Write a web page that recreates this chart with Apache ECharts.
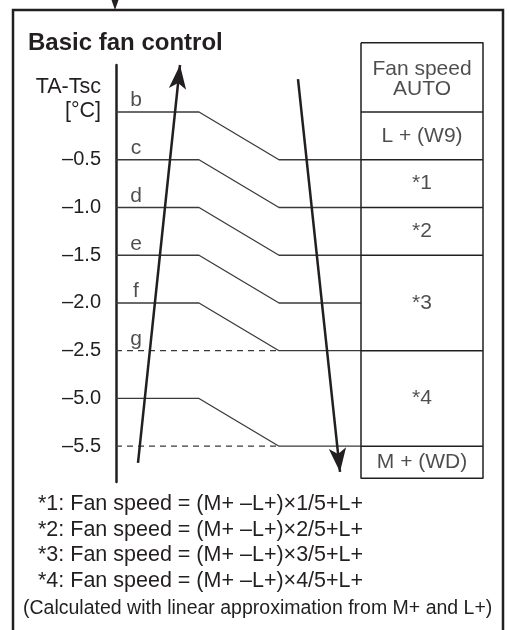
<!DOCTYPE html>
<html><head><meta charset="utf-8">
<script src="https://cdn.jsdelivr.net/npm/echarts@6/dist/echarts.min.js"></script>
<style>html,body{margin:0;padding:0;background:#fff}#c{width:509px;height:630px}</style>
</head><body><div id="c"></div>
<script>
// ---- data ----
const levelTicks = ['', '–0.5', '–1.0', '–1.5', '–2.0', '–2.5', '–5.0', '–5.5'];
const thresholdLetters = ['b', 'c', 'd', 'e', 'f', 'g'];
const rampLevels = [0, 1, 2, 3, 4, 6];      // solid threshold lines that step down one level
const dashedLevels = [5, 7];                // dashed reference lines
const tableRows = ['Fan speed\nAUTO', 'L + (W9)', '*1', '*2', '*3', '*4', 'M + (WD)'];
const tableRowBounds = [-1.45, 0, 1, 2, 3, 5, 7, 7.67];
const formulaNotes = [
  '*1: Fan speed = (M+ –L+)×1/5+L+',
  '*2: Fan speed = (M+ –L+)×2/5+L+',
  '*3: Fan speed = (M+ –L+)×3/5+L+',
  '*4: Fan speed = (M+ –L+)×4/5+L+'
];
const footNote = '(Calculated with linear approximation from M+ and L+)';
// hysteresis arrows: [x, level] start -> end
const upArrow = [[22, 7.35], [64, -0.985]];
const downArrow = [[182, -0.69], [224, 7.54]];

// ---- layout ----
const X0 = 0, XR0 = 83, XR1 = 163, XT0 = 245, XT1 = 367;
const INK = '#231f20', LINE = '#3a3a3a';
const FONT = '"Liberation Sans", Arial, sans-serif';
const y = l => -l;

const series = [];
rampLevels.forEach(l => series.push({
  type: 'line', symbol: 'none', silent: true, clip: false,
  lineStyle: { color: LINE, width: 1.3 },
  data: [[X0, y(l)], [XR0, y(l)], [XR1, y(l + 1)], [XT0, y(l + 1)]]
}));
dashedLevels.forEach(l => series.push({
  type: 'line', symbol: 'none', silent: true, clip: false,
  lineStyle: { color: LINE, width: 1.3, type: [6, 5] },
  data: [[X0, y(l)], [XR1, y(l)]]
}));
const tTop = tableRowBounds[0], tBot = tableRowBounds[tableRowBounds.length - 1];
series.push({
  type: 'line', symbol: 'none', silent: true, clip: false,
  lineStyle: { color: INK, width: 1.5 },
  data: [[XT0, y(tTop)], [XT1, y(tTop)], [XT1, y(tBot)], [XT0, y(tBot)], [XT0, y(tTop)]]
});
tableRowBounds.slice(1, -1).forEach(b => series.push({
  type: 'line', symbol: 'none', silent: true, clip: false,
  lineStyle: { color: INK, width: 1.5 },
  data: [[XT0, y(b)], [XT1, y(b)]]
}));
series.push({
  type: 'scatter', symbol: 'rect', symbolSize: 1, silent: true, clip: false,
  itemStyle: { color: 'transparent' },
  label: { show: true, position: 'inside', color: INK, fontFamily: FONT, fontSize: 21, lineHeight: 20,
    formatter: p => p.value[2] },
  data: tableRows.map((t, i) => {
    const item = { value: [(XT0 + XT1) / 2, y((tableRowBounds[i] + tableRowBounds[i + 1]) / 2), t] };
    if (i === 0) item.label = { offset: [0, 2] };
    return item;
  })
});
series.push({
  type: 'scatter', symbol: 'rect', symbolSize: 1, silent: true, clip: false,
  itemStyle: { color: 'transparent' },
  label: { show: true, position: 'inside', color: INK, fontFamily: FONT, fontSize: 21,
    formatter: p => p.value[2] },
  data: thresholdLetters.map((t, i) => [20, y(i - 0.24), t])
});
series.push({
  type: 'line', data: [], silent: true, clip: false,
  markLine: {
    silent: true, animation: false, symbol: ['none', 'arrow'], symbolSize: [13, 24],
    label: { show: false },
    lineStyle: { color: INK, width: 2.5, type: 'solid' },
    data: [
      [{ coord: [upArrow[0][0], y(upArrow[0][1])] }, { coord: [upArrow[1][0], y(upArrow[1][1])] }],
      [{ coord: [downArrow[0][0], y(downArrow[0][1])] }, { coord: [downArrow[1][0], y(downArrow[1][1])] }]
    ]
  }
});

const graphics = [{
  type: 'rect', silent: true,
  shape: { x: 13, y: 10, width: 490, height: 700 },
  style: { fill: 'none', stroke: INK, lineWidth: 2.5 }
}, {
  type: 'polygon', silent: true,
  shape: { points: [[111.5, 0], [118.5, 0], [115, 10]] },
  style: { fill: INK }
}];
formulaNotes.forEach((t, i) => graphics.push({
  type: 'text', silent: true,
  style: { text: t, x: 38, y: 504 + 25.6 * i, verticalAlign: 'middle', fill: INK, font: '21.5px ' + FONT }
}));
graphics.push({
  type: 'text', silent: true,
  style: { text: footNote, x: 23, y: 609, verticalAlign: 'middle', fill: INK, font: '19.5px ' + FONT }
});

const chart = echarts.init(document.getElementById('c'), null, { renderer: 'canvas' });
chart.setOption({
  animation: false,
  backgroundColor: '#fff',
  title: { text: 'Basic fan control', left: 28, top: 31, padding: 0,
    textStyle: { fontFamily: FONT, fontSize: 24, fontWeight: 'bold', color: INK } },
  grid: { left: 116, right: 26, top: 65, bottom: 148, containLabel: false, outerBoundsMode: 'none' },
  xAxis: { type: 'value', min: 0, max: 367, show: false },
  yAxis: {
    type: 'value', min: -7.75, max: 0.985,
    axisLine: { show: true, lineStyle: { color: INK, width: 2.5 } },
    axisTick: { show: false }, splitLine: { show: false },
    axisLabel: { customValues: [-1, -2, -3, -4, -5, -6, -7], formatter: v => levelTicks[Math.round(-v)],
      fontFamily: FONT, fontSize: 20, color: INK, margin: 15 },
    name: 'TA-Tsc\n[°C]', nameLocation: 'end', nameGap: -10,
    nameTextStyle: { align: 'right', verticalAlign: 'top', fontFamily: FONT, fontSize: 21.5, lineHeight: 24,
      color: INK, padding: [0, 15, 0, 0] }
  },
  graphic: graphics,
  series: series
});
</script></body></html>
